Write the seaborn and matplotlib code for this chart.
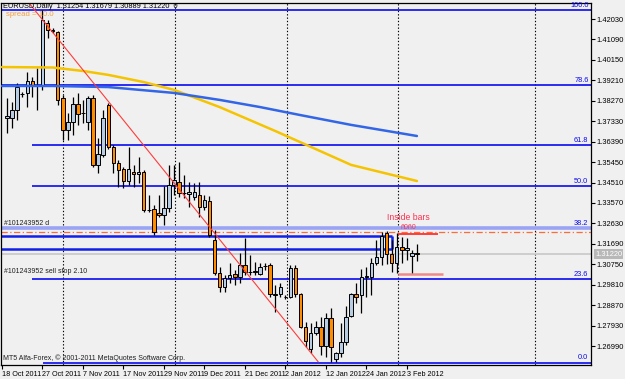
import numpy as np
import pandas as pd
import matplotlib
matplotlib.use("Agg")
import matplotlib.pyplot as plt
import seaborn as sns

# ---------------- data ----------------
bar_index = list(range(1, 83))
opens = [1.3748,1.3748,1.3785,1.3858,1.3863,1.3918,1.3895,1.3895,1.4185,1.4152,
         1.4143,1.3840,1.3693,1.3729,1.3812,1.3771,1.3729,1.3840,1.3532,1.3578,
         1.3808,1.3614,1.3541,1.3513,1.3458,1.3499,1.3490,1.3499,1.3325,1.3329,
         1.3311,1.3302,1.3334,1.3440,1.3453,1.3403,1.3398,1.3384,1.3394,1.3338,
         1.3366,1.3187,1.3035,1.2971,1.3012,1.3030,1.3017,1.3072,1.3040,1.3040,
         1.3030,1.3067,1.3072,1.2938,1.2938,1.2925,1.2925,1.3058,1.2938,1.2787,
         1.2685,1.2759,1.2787,1.2699,1.2828,1.2639,1.2667,1.2718,1.2837,1.2938,
         1.2934,1.3017,1.3017,1.3081,1.3109,1.3219,1.3122,1.3081,1.3155,1.3141,
         1.3113,1.31254]
highs = [1.3840,1.3821,1.3909,1.3867,1.3959,1.3936,1.3978,1.4245,1.4198,1.4162,
         1.4148,1.3854,1.3771,1.3844,1.3863,1.3831,1.3849,1.3854,1.3656,1.3785,
         1.3817,1.3624,1.3555,1.3522,1.3614,1.3532,1.3568,1.3509,1.3394,1.3348,
         1.3394,1.3435,1.3532,1.3532,1.3545,1.3486,1.3453,1.3449,1.3453,1.3394,
         1.3389,1.3233,1.3062,1.3026,1.3081,1.3049,1.3127,1.3196,1.3118,1.3086,
         1.3081,1.3081,1.3081,1.2980,1.2989,1.2934,1.3072,1.3072,1.2943,1.2810,
         1.2805,1.2814,1.2833,1.2851,1.2874,1.2672,1.2805,1.2883,1.2943,1.2989,
         1.3053,1.3062,1.3104,1.3187,1.3223,1.3228,1.3187,1.3219,1.3201,1.3196,
         1.3141,1.31679]
lows = [1.3679,1.3702,1.3739,1.3844,1.3798,1.3844,1.3785,1.3877,1.4116,1.4139,
        1.3808,1.3647,1.3647,1.3670,1.3716,1.3725,1.3693,1.3522,1.3495,1.3568,
        1.3605,1.3495,1.3430,1.3426,1.3440,1.3430,1.3449,1.3315,1.3315,1.3210,
        1.3293,1.3256,1.3315,1.3394,1.3384,1.3380,1.3338,1.3371,1.3293,1.3325,
        1.3201,1.3026,1.2948,1.2948,1.2989,1.2980,1.2989,1.3026,1.3026,1.3026,
        1.3026,1.3049,1.2925,1.2856,1.2925,1.2915,1.2920,1.2925,1.2782,1.2695,
        1.2667,1.2750,1.2658,1.2649,1.2624,1.2626,1.2649,1.2704,1.2833,1.2897,
        1.2851,1.2925,1.2934,1.3072,1.3072,1.3076,1.3040,1.3035,1.3081,1.3095,
        1.3030,1.30889]
closes = [1.3757,1.3785,1.3890,1.3858,1.3918,1.3895,1.3893,1.4198,1.4152,1.4150,
          1.3831,1.3693,1.3729,1.3812,1.3766,1.3769,1.3840,1.3532,1.3582,1.3748,
          1.3614,1.3541,1.3509,1.3458,1.3513,1.3490,1.3499,1.3325,1.3323,1.3223,
          1.3302,1.3334,1.3440,1.3463,1.3403,1.3401,1.3407,1.3407,1.3338,1.3371,
          1.3210,1.3035,1.2971,1.3012,1.3026,1.3017,1.3072,1.3040,1.3038,1.3042,
          1.3062,1.3065,1.2938,1.2936,1.2971,1.2923,1.3058,1.2938,1.2787,1.2722,
          1.2759,1.2787,1.2699,1.2828,1.2695,1.2667,1.2718,1.2833,1.2938,1.2925,
          1.3017,1.3019,1.3081,1.3109,1.3205,1.3122,1.3081,1.3155,1.3141,1.3150,
          1.3127,1.31220]

# moving averages (sampled)
ma_slow_idx = [0, 10, 16, 21, 28, 34, 43, 54, 69, 82]
ma_slow_val = [1.3982, 1.3980, 1.3964, 1.3946, 1.3913, 1.3877, 1.3798, 1.3688, 1.3532, 1.3458]
ma_long_idx = [0, 10, 21, 34, 43, 51, 59, 69, 82]
ma_long_val = [1.3895, 1.3895, 1.3890, 1.3863, 1.3831, 1.3798, 1.3761, 1.3716, 1.3665]

# trend line anchors
trend_idx = [5.5, 62.5]
trend_val = [1.4272, 1.2626]

# fibonacci
fib_high = 1.4245
fib_low = 1.2623
fib_levels = [0.0, 23.6, 38.2, 50.0, 61.8, 78.6, 100.0]
fib_start = [8.1, 5.9, 5.9, 5.9, 5.9, -1.0, -1.0]

# order / object lines
order_line = 1.3242
pending_line = 1.3223
box_top, box_bottom, box_end = 1.3205, 1.3145, 77.1
current_price = 1.31220
inside_high, inside_low = 1.3214, 1.3030
inside_start, inside_end_hi, inside_end_lo = 78.3, 86.2, 87.2

separators = [12.05, 34.2, 56.3, 78.3, 105.3]

price_ticks = [1.42030, 1.41090, 1.40150, 1.39210, 1.38270, 1.37330, 1.36390, 1.35450,
               1.34510, 1.33570, 1.32630, 1.31690, 1.30750, 1.29810, 1.28870, 1.27930, 1.26990]
date_pos = [0, 8, 16, 24, 32, 40, 48, 56, 64, 72, 80]
date_labels = ["18 Oct 2011", "27 Oct 2011", "7 Nov 2011", "17 Nov 2011", "29 Nov 2011",
               "9 Dec 2011", "21 Dec 2011", "2 Jan 2012", "12 Jan 2012", "24 Jan 2012", "3 Feb 2012"]

# ---------------- style ----------------
BG = "#f0f0f0"
BULL = "#b8cce4"
BEAR = "#ff8c00"
FIB = "#0a0af0"

sns.set_theme(style="white")
plt.rcParams['font.family'] = ['Liberation Sans', 'DejaVu Sans']

fig = plt.figure(figsize=(6.25, 3.79), dpi=100, facecolor=BG)
W, H = 625, 379
ax = fig.add_axes([1 / W, 14 / H, 590 / W, 362 / H])
ax.set_facecolor(BG)
ax.set_xlim(-0.2, 116.4)
ax.set_ylim(1.26118, 1.42766)

# separators
for s in separators:
    ax.axvline(s, color="black", lw=0.8, ls=(0, (1.2, 1.8)), zorder=1)

# fib levels
rng = fib_high - fib_low
for lvl, st in zip(fib_levels, fib_start):
    p = fib_low + lvl / 100 * rng
    ax.hlines(p, st, 116.4, color=FIB, lw=1.2, zorder=2)
    ax.text(115.9, p + 0.0005, f"{lvl:.1f}", color=FIB, fontsize=5.3,
            ha="right", va="bottom", zorder=6)

# order lines
ax.axhline(order_line, color="#9aa4f4", lw=2.6, zorder=2)
ax.axhline(pending_line, color="#ff6a3a", lw=0.9, ls=(0, (5, 2, 1, 2)), zorder=2)
ax.hlines([box_top, box_bottom], -1, box_end, color="#1020e8", lw=1.8, zorder=2)
ax.vlines(box_end, box_bottom, box_top, color="#1020e8", lw=1.8, zorder=2)
ax.axhline(current_price, color="#c8c8c8", lw=1.2, zorder=1.5)

# candles
df = pd.DataFrame(dict(idx=bar_index, o=opens, h=highs, l=lows, c=closes))
up = (df.c >= df.o).to_numpy()
ax.vlines(df.idx, df.l, df.h, color="black", lw=0.9, zorder=3)
ax.bar(df.idx, df.c - df.o, bottom=df.o, width=0.7,
       color=np.where(up, BULL, BEAR), edgecolor="black", linewidth=0.7, zorder=4)

# moving averages
sns.lineplot(x=ma_slow_idx, y=ma_slow_val, ax=ax, color="#f5c400", lw=1.8, zorder=5)
sns.lineplot(x=ma_long_idx, y=ma_long_val, ax=ax, color="#3366e6", lw=1.8, zorder=5)

# trendline
ax.plot(trend_idx, trend_val, color="#ff3b3b", lw=0.8, zorder=5)

# inside bars marks
ax.hlines(inside_high, inside_start, inside_end_hi, color="#ff2020", lw=1.2, zorder=5)
ax.hlines(inside_low, inside_start, inside_end_lo, color="#f08a8a", lw=1.8, zorder=5)
ax.text(80.4, 1.3290, "Inside bars", color="#ff3050", fontsize=6.2, ha="center", va="center", zorder=6)
ax.text(80.4, 1.3244, "ñ0ñ0", color="#ff3050", fontsize=5.0, ha="center", va="center", zorder=6)

# labels inside chart
ax.text(0.4, order_line + 0.0004, "#101243952 d", fontsize=5.0, color="#202020", va="bottom", zorder=6)
ax.text(0.4, 1.3040, "#101243952 sell stop 2.10", fontsize=5.0, color="#202020", va="center", zorder=6)

fig.text(3 / W, 1 - 6 / H, "EURUSD,Daily  1.31254 1.31679 1.30889 1.31220  0",
         fontsize=5.3, color="black", va="center", ha="left")
fig.text(6 / W, 1 - 15 / H, "spread = 10.0", fontsize=5.6, color="#f4a040", va="center", ha="left")
fig.text(3 / W, 1 - 358 / H, "MT5 Alfa-Forex, © 2001-2011 MetaQuotes Software Corp.",
         fontsize=5.0, color="#202020", va="center", ha="left")

# axes / ticks
ax.yaxis.tick_right()
ax.set_yticks(price_ticks)
ax.set_yticklabels([f"{t:.5f}" for t in price_ticks])
ax.tick_params(axis="y", which="both", right=True, left=False, direction="out",
               length=3, width=0.8, labelsize=5.4, pad=1, colors="black")
ax.set_xticks(date_pos)
ax.set_xticklabels(date_labels, ha="left")
ax.tick_params(axis="x", bottom=True, direction="out", length=3, width=0.8,
               labelsize=5.2, pad=1.5, colors="black")
for sp in ax.spines.values():
    sp.set_color("black")
    sp.set_linewidth(0.9)

ax.annotate("1.31220", xy=(1.0, current_price), xycoords=("axes fraction", "data"),
            xytext=(3, 0), textcoords="offset points", fontsize=5.4, color="white",
            va="center", ha="left",
            bbox=dict(boxstyle="square,pad=0.15", fc="#b8b8b8", ec="none"), zorder=10,
            annotation_clip=False)

ax.set_xlabel("")
ax.set_ylabel("")
fig.savefig("out.png", dpi=100, facecolor=BG)
